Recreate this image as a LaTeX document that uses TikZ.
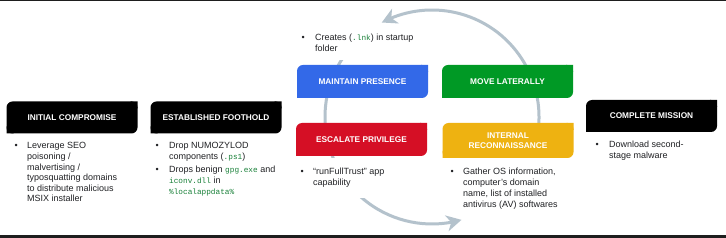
\documentclass[tikz,border=0pt]{standalone}
\usepackage{fontspec}
\setmainfont{Liberation Sans}
\newfontfamily\codefont{Liberation Mono}[Scale=0.86]
\usetikzlibrary{arrows.meta,bending}
\definecolor{gblue}{HTML}{3369E8}
\definecolor{gred}{HTML}{D50F25}
\definecolor{gyellow}{HTML}{EEB211}
\definecolor{ggreen}{HTML}{009925}
\definecolor{codegreen}{HTML}{188038}
\definecolor{textgray}{HTML}{202124}
\definecolor{arcgray}{RGB}{180,194,204}
\definecolor{bandcol}{HTML}{1E1E1E}
\newcommand\code[1]{{\codefont\color{codegreen}#1}}
\tikzset{
  stagebox/.style={minimum width=131pt, minimum height=32pt, rounded corners=6pt,
    inner sep=0pt, outer sep=0pt, text=white,
    font=\fontsize{8.3}{10}\selectfont\bfseries, align=center},
  bultext/.style={anchor=base west, inner sep=0pt, text=textgray,
    font=\fontsize{9}{11}\selectfont},
  cyclearrow/.style={draw=arcgray, line width=3pt,
    -{Stealth[length=15pt,width=16pt,inset=4.5pt]}},
}
\begin{document}
\begin{tikzpicture}[x=1pt,y=1pt]
\useasboundingbox (0,0) rectangle (726,238);
\fill[white] (0,0) rectangle (726,238);
\fill[bandcol] (0,236.6) rectangle (726,238);
\fill[bandcol] (0,0) rectangle (726,3);

% cycle arcs
\coordinate (cycC) at (432,121);
\path (cycC) ++(-15:107pt) coordinate (aStart);
\path (cycC) ++(140:107pt) coordinate (bStart);
\draw[cyclearrow] (aStart) arc[start angle=-15, end angle=118, radius=107pt];
\draw[cyclearrow] (bStart) arc[start angle=140, end angle=286, radius=107pt];

% stage boxes
\node[stagebox, fill=black] (init) at (72,120.5) {INITIAL COMPROMISE};
\fill[black] (init.north east) rectangle ++(-7,-7) (init.south west) rectangle ++(7,7);
\node[stagebox, fill=black] (foot) at (216,120.5) {ESTABLISHED FOOTHOLD};
\fill[black] (foot.north east) rectangle ++(-7,-7) (foot.south west) rectangle ++(7,7);
\node[stagebox, fill=gblue, minimum height=33pt] (maint) at (362.5,156.5) {MAINTAIN PRESENCE};
\fill[gblue] (maint.north east) rectangle ++(-7,-7) (maint.south west) rectangle ++(7,7);
\node[stagebox, fill=ggreen, minimum height=33pt] (lat) at (507.5,156.5) {MOVE LATERALLY};
\fill[ggreen] (lat.north east) rectangle ++(-7,-7) (lat.south west) rectangle ++(7,7);
\node[stagebox, fill=gred, minimum height=33pt] (esc) at (361.5,98.5) {ESCALATE PRIVILEGE};
\fill[gred] (esc.north east) rectangle ++(-7,-7) (esc.south west) rectangle ++(7,7);
\node[stagebox, fill=gyellow, minimum height=35pt] (recon) at (508,97.5) {INTERNAL\\RECONNAISSANCE};
\fill[gyellow] (recon.north east) rectangle ++(-7,-7) (recon.south west) rectangle ++(7,7);
\node[stagebox, fill=black] (comp) at (651.5,122) {COMPLETE MISSION};
\fill[black] (comp.north east) rectangle ++(-7,-7) (comp.south west) rectangle ++(7,7);

% bullet texts
\node[bultext, font=\fontsize{9}{10.6}\selectfont] (initTxt) at (14.4,89)
  {\begin{tabular}[t]{@{}p{12.6pt}@{}l@{}}\textbullet & Leverage SEO\\
   & poisoning /\\ & malvertising /\\ & typosquatting domains\\
   & to distribute malicious\\ & MSIX installer\end{tabular}};
\node[bultext] (footTxt) at (155.4,89)
  {\begin{tabular}[t]{@{}p{13.6pt}@{}l@{}}\textbullet & Drop NUMOZYLOD\\
   & components (\code{.ps1})\\[1.5pt]
   \textbullet & Drops benign \code{gpg.exe} and\\
   & \code{iconv.dll} in\\ & \code{\%localappdata\%}\end{tabular}};
\node[bultext, fill=white, inner xsep=2pt, inner ysep=5pt, font=\fontsize{9}{10.4}\selectfont] (maintTxt) at (299.4,197)
  {\begin{tabular}[t]{@{}p{13.6pt}@{}l@{}}\textbullet & Creates (\code{.lnk}) in startup\\
   & folder\end{tabular}};
\node[bultext, fill=white, inner xsep=2pt, inner ysep=9pt] (escTxt) at (298.4,63)
  {\begin{tabular}[t]{@{}p{12.6pt}@{}l@{}}\textbullet & “runFullTrust” app\\
   & capability\end{tabular}};
\node[bultext] (reconTxt) at (450.4,63)
  {\begin{tabular}[t]{@{}p{12.6pt}@{}l@{}}\textbullet & Gather OS information,\\
   & computer’s domain\\ & name, list of installed\\
   & antivirus (AV) softwares\end{tabular}};
\node[bultext] (compTxt) at (595.4,90)
  {\begin{tabular}[t]{@{}p{13.6pt}@{}l@{}}\textbullet & Download second-\\
   & stage malware\end{tabular}};
\end{tikzpicture}
\end{document}
